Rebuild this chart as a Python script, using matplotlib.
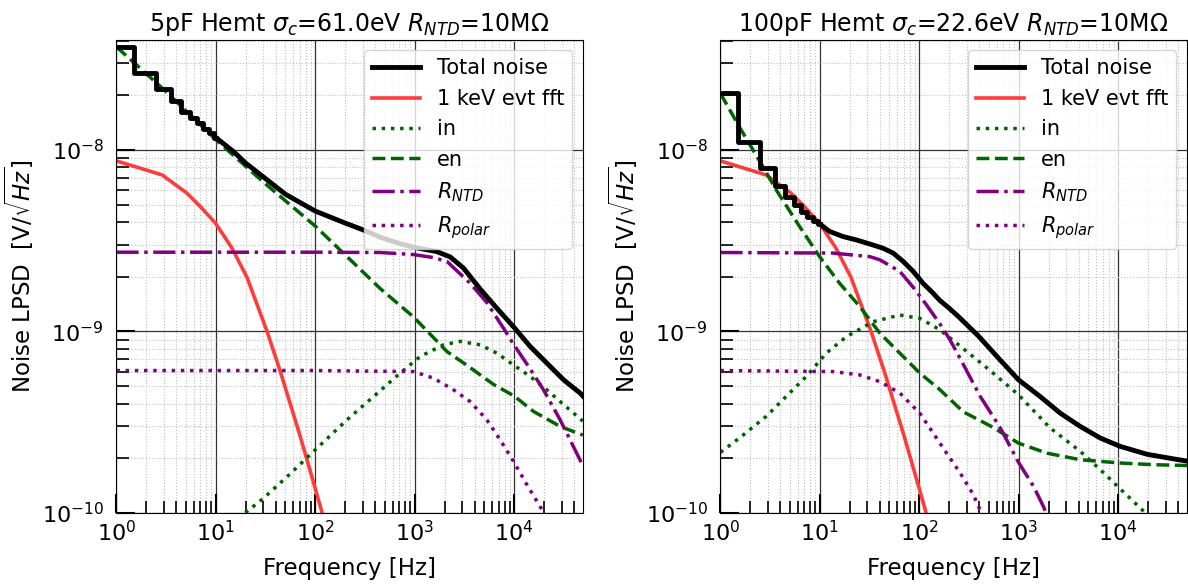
import matplotlib
matplotlib.use("Agg")
import matplotlib.pyplot as plt

# ---- data ----
titles = [r"5pF Hemt $\sigma_c$=61.0eV $R_{NTD}$=10M$\Omega$",
          r"100pF Hemt $\sigma_c$=22.6eV $R_{NTD}$=10M$\Omega$"]

# 1 keV event fft (same on both panels)
evt_f = [1, 2.88, 5.13, 6.98, 9.9, 14.5, 20.6, 25.2, 32.7, 44.5, 70.6, 96.2,
         117, 130]
evt_v = [8.7e-9, 7.28e-9, 5.77e-9, 4.87e-9, 3.95e-9, 2.88e-9, 1.98e-9,
         1.47e-9, 1.0e-9, 6.0e-10, 2.63e-10, 1.46e-10, 1.0e-10, 8e-11]

# 5pF panel
tot_lo_f_5 = [1, 2, 3, 4, 5, 6, 7, 8, 9, 10]
tot_lo_v_5 = [3.7e-8, 2.65e-8, 2.16e-8, 1.86e-8, 1.62e-8, 1.5e-8, 1.4e-8,
              1.31e-8, 1.24e-8, 1.17e-8]
tot_hi_f_5 = [10, 15, 20, 30, 50, 100, 200, 300, 450, 700, 1000, 1671, 2275,
              3096, 4552, 6700, 9840, 14480, 21300, 31300, 46000, 49000]
tot_hi_v_5 = [1.17e-8, 9.8e-9, 8.45e-9, 7.1e-9, 5.7e-9, 4.6e-9, 3.95e-9,
              3.63e-9, 3.3e-9, 3.05e-9, 2.9e-9, 2.75e-9, 2.57e-9, 2.23e-9,
              1.71e-9, 1.34e-9, 1.06e-9, 8.25e-10, 6.68e-10, 5.41e-10,
              4.57e-10, 4.4e-10]
en_f_5 = [1, 3, 10, 30, 100, 300, 450, 973, 2105, 3344, 6190, 10000, 15600,
          29000, 49000]
en_v_5 = [3.7e-8, 2.15e-8, 1.14e-8, 6.65e-9, 3.8e-9, 2.13e-9, 1.72e-9,
          1.2e-9, 7.74e-10, 6.5e-10, 5.1e-10, 4.4e-10, 3.62e-10, 2.99e-10,
          2.68e-10]
in_f_5 = [19.8, 30, 52, 104, 208, 385, 715, 1135, 1950, 2865, 4552, 6700,
          9840, 14480, 21300, 29000, 49000]
in_v_5 = [1.0e-10, 1.2e-10, 1.58e-10, 2.27e-10, 3.25e-10, 4.37e-10, 5.89e-10,
          7.27e-10, 8.43e-10, 8.8e-10, 8.43e-10, 7.58e-10, 6.53e-10, 5.64e-10,
          4.76e-10, 4.1e-10, 3.2e-10]
ntd_f_5 = [1, 100, 447, 973, 1545, 2105, 3610, 5310, 7810, 9840, 14480,
           19700, 29000, 49000]
ntd_v_5 = [2.73e-9, 2.73e-9, 2.72e-9, 2.65e-9, 2.55e-9, 2.43e-9, 1.84e-9,
           1.44e-9, 1.04e-9, 8.5e-10, 6.2e-10, 4.76e-10, 3.25e-10, 1.82e-10]
pol_f_5 = [1, 100, 973, 1545, 2455, 3610, 5310, 7230, 9840, 13400, 18250, 25000]
pol_v_5 = [6.08e-10, 6.08e-10, 6.0e-10, 5.52e-10, 4.76e-10, 4.1e-10,
           3.25e-10, 2.52e-10, 1.92e-10, 1.43e-10, 1.08e-10, 8e-11]

# 100pF panel
tot_lo_f_100 = [1, 2, 3, 4, 5, 6, 7, 8, 9, 10]
tot_lo_v_100 = [2.05e-8, 1.1e-8, 7.93e-9, 6.34e-9, 5.53e-9, 4.98e-9, 4.57e-9,
                4.29e-9, 4.08e-9, 3.9e-9]
tot_hi_f_100 = [10, 12.6, 17.1, 23.3, 31.8, 43.3, 54.6, 68.8, 86.8, 109, 135,
                161, 200, 250, 395, 649, 993, 1644, 2615, 4160, 6620, 10520,
                19550, 36300, 51000]
tot_hi_v_100 = [3.9e-9, 3.55e-9, 3.33e-9, 3.19e-9, 3.03e-9, 2.87e-9, 2.7e-9,
                2.43e-9, 2.14e-9, 1.84e-9, 1.64e-9, 1.48e-9, 1.34e-9, 1.2e-9,
                9.4e-10, 6.96e-10, 5.41e-10, 4.37e-10, 3.54e-10, 2.99e-10,
                2.58e-10, 2.32e-10, 2.1e-10, 1.98e-10, 1.92e-10]
en_f_100 = [1, 1.55, 2.67, 3.64, 6.26, 9.95, 15.8, 25.2, 40.1, 63.7, 101, 161,
            277, 556, 993, 1920, 4160, 10520, 22800, 51000]
en_v_100 = [2.05e-8, 1.34e-8, 8.1e-9, 6.02e-9, 3.78e-9, 2.58e-9, 1.84e-9,
            1.37e-9, 9.77e-10, 7.58e-10, 5.89e-10, 4.77e-10, 3.6e-10,
            2.95e-10, 2.42e-10, 2.13e-10, 1.96e-10, 1.88e-10, 1.84e-10, 1.82e-10]
in_f_100 = [1, 1.55, 2.89, 4.59, 7.31, 11.6, 18.5, 34.3, 63.7, 101, 161, 257,
            477, 993, 2074, 4160, 7140, 11000, 18700, 25000]
in_v_100 = [2.15e-10, 2.58e-10, 3.4e-10, 4.38e-10, 5.64e-10, 7.58e-10,
            9.35e-10, 1.13e-9, 1.23e-9, 1.18e-9, 1.02e-9, 8.3e-10, 6.3e-10,
            4.47e-10, 2.93e-10, 2.18e-10, 1.66e-10, 1.32e-10, 1.0e-10, 8.5e-11]
ntd_f_100 = [1, 13.6, 31.8, 40.1, 63.7, 86.8, 118, 161, 203, 257, 408, 649,
             993, 1407, 1775, 2200]
ntd_v_100 = [2.72e-9, 2.7e-9, 2.58e-9, 2.48e-9, 2.14e-9, 1.75e-9, 1.4e-9,
             1.1e-9, 9.0e-10, 7.1e-10, 4.4e-10, 2.95e-10, 1.9e-10, 1.4e-10,
             1.08e-10, 8e-11]
pol_f_100 = [1, 13.6, 25.2, 40.1, 63.7, 101, 138, 188, 257, 349, 408, 480]
pol_v_100 = [6.08e-10, 6.0e-10, 5.75e-10, 5.28e-10, 4.57e-10, 3.54e-10,
             2.75e-10, 2.13e-10, 1.66e-10, 1.26e-10, 1.04e-10, 8.5e-11]

panels = [
    (tot_lo_f_5, tot_lo_v_5, tot_hi_f_5, tot_hi_v_5, en_f_5, en_v_5,
     in_f_5, in_v_5, ntd_f_5, ntd_v_5, pol_f_5, pol_v_5),
    (tot_lo_f_100, tot_lo_v_100, tot_hi_f_100, tot_hi_v_100, en_f_100,
     en_v_100, in_f_100, in_v_100, ntd_f_100, ntd_v_100, pol_f_100, pol_v_100),
]

fig, axes = plt.subplots(1, 2, figsize=(11.88, 5.84), dpi=100)
fig.subplots_adjust(left=0.098, right=0.999, bottom=0.122, top=0.932,
                    wspace=0.295)

for ax, title, p in zip(axes, titles, panels):
    (tlo_f, tlo_v, thi_f, thi_v, en_f, en_v,
     in_f, in_v, ntd_f, ntd_v, pol_f, pol_v) = p

    # low frequency part is drawn on the fft bins, hence the steps
    ax.plot(tlo_f, tlo_v, color="k", lw=3.5, drawstyle="steps-mid",
            label="Total noise", zorder=5)
    ax.plot(thi_f, thi_v, color="k", lw=3.5, zorder=5)
    ax.plot(evt_f, evt_v, color="#ff3c3c", lw=2.6, label="1 keV evt fft")
    ax.plot(in_f, in_v, color="darkgreen", lw=2.5, ls=":", label="in")
    ax.plot(en_f, en_v, color="darkgreen", lw=2.5, ls="--", label="en")
    ax.plot(ntd_f, ntd_v, color="purple", lw=2.5, ls="-.", label=r"$R_{NTD}$")
    ax.plot(pol_f, pol_v, color="purple", lw=2.5, ls=":", label=r"$R_{polar}$")

    ax.set_xscale("log")
    ax.set_yscale("log")
    ax.set_xlim(1, 4.9e4)
    ax.set_ylim(1e-10, 4.05e-8)

    ax.grid(which="major", color="0.2", lw=0.9, ls="-")
    ax.grid(which="minor", color="0.75", lw=0.8, ls=":")
    ax.tick_params(which="major", direction="in", length=14, width=1.5,
                   labelsize=16, top=False, right=False)
    ax.tick_params(which="minor", direction="in", length=9, width=1.2,
                   top=False, right=False)
    ax.tick_params(axis="y", which="major", pad=9)
    ax.tick_params(axis="x", which="major", pad=5)

    ax.set_title(title, fontsize=17)
    ax.set_xlabel("Frequency [Hz]", fontsize=16.5, labelpad=9)
    ax.set_ylabel(r"Noise LPSD  [V/$\sqrt{Hz}$]", fontsize=16.5)
    ax.legend(loc="upper right", fontsize=15, framealpha=0.8,
              labelspacing=0.5, handlelength=2.3)

fig.savefig("out.png", dpi=100)
